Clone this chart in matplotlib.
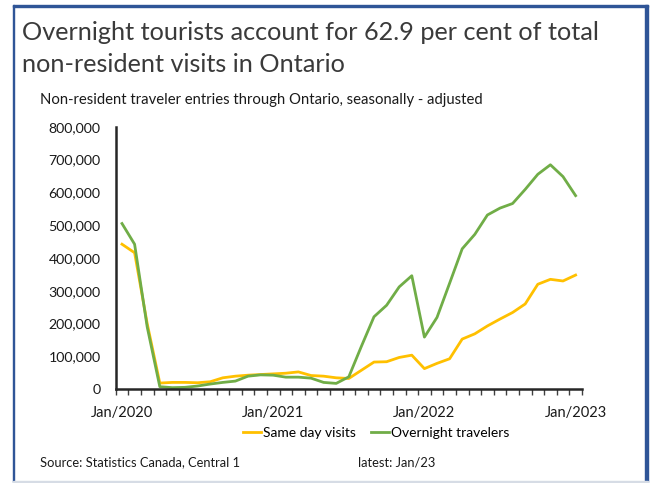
import matplotlib
matplotlib.use("Agg")
import matplotlib.pyplot as plt
from matplotlib.patches import Rectangle
from matplotlib.ticker import FuncFormatter, FixedLocator

months = ["Jan/2020","Feb/2020","Mar/2020","Apr/2020","May/2020","Jun/2020","Jul/2020","Aug/2020",
          "Sep/2020","Oct/2020","Nov/2020","Dec/2020","Jan/2021","Feb/2021","Mar/2021","Apr/2021",
          "May/2021","Jun/2021","Jul/2021","Aug/2021","Sep/2021","Oct/2021","Nov/2021","Dec/2021",
          "Jan/2022","Feb/2022","Mar/2022","Apr/2022","May/2022","Jun/2022","Jul/2022","Aug/2022",
          "Sep/2022","Oct/2022","Nov/2022","Dec/2022","Jan/2023"]
same_day = [442000, 416000, 200000, 19000, 21000, 21000, 20000, 23000, 35000, 40000, 43000, 45000,
            47000, 49000, 53000, 42000, 40000, 35000, 33000, 58000, 83000, 84000, 97000, 104000,
            63000, 79000, 93000, 153000, 169000, 193000, 214000, 234000, 260000, 320000, 335000,
            330000, 348000]
overnight = [505000, 442000, 190000, 8000, 5000, 6000, 10000, 16000, 21000, 25000, 40000, 44000,
             43000, 37000, 37000, 34000, 21000, 18000, 38000, 131000, 221000, 256000, 312000, 346000,
             159000, 219000, 323000, 428000, 472000, 531000, 552000, 566000, 609000, 655000, 684000,
             648000, 590000]
label_idx = [0, 12, 24, 36]
y_ticks = [0, 100000, 200000, 300000, 400000, 500000, 600000, 700000, 800000]

plt.rcParams['font.family'] = ['Lato', 'DejaVu Sans']

W, H = 652, 483
fig = plt.figure(figsize=(W/100, H/100), dpi=100)
fig.patch.set_facecolor('white')

# frame
blue = '#2F5597'
fig.patches.append(Rectangle((12.5/W, 1-482/H), 1.5/W, (482-5)/H, transform=fig.transFigure,
                             color=blue, zorder=0))
fig.patches.append(Rectangle((12.5/W, 1-7/H), (648-12.5)/W, 2/H, transform=fig.transFigure,
                             color=blue, zorder=0))
fig.patches.append(Rectangle((645/W, 1-482/H), 3/W, (482-5)/H, transform=fig.transFigure,
                             color=blue, zorder=0))
fig.patches.append(Rectangle((12.5/W, 0), (648-12.5)/W, 2/H, transform=fig.transFigure,
                             color='#D6DCE5', zorder=0))

ax = fig.add_axes([115.7/W, 1-389.3/H, (581.9-115.7)/W, (389.3-126.7)/H])
x = list(range(len(months)))
ax.plot(x, same_day, color='#FFC000', lw=2.0, label='Same day visits')
ax.plot(x, overnight, color='#70AD47', lw=2.0, label='Overnight travelers')

ax.set_xlim(-0.5, len(months)-0.5)
ax.set_ylim(0, 800000)
ax.set_yticks(y_ticks)
ax.yaxis.set_major_formatter(FuncFormatter(lambda v, p: f"{int(v):,}"))
ax.tick_params(axis='y', length=0, pad=11, labelsize=10.2, labelcolor='#1a1a1a')
ax.set_xticks(label_idx)
ax.set_xticklabels([months[i] for i in label_idx])
ax.tick_params(axis='x', which='major', length=0, pad=12, labelsize=10.5, labelcolor='#1a1a1a')
ax.xaxis.set_minor_locator(FixedLocator([i - 0.5 for i in range(len(months)+1)]))
ax.tick_params(axis='x', which='minor', length=4, width=1, color='#404040', direction='out')
for s in ['top', 'right']:
    ax.spines[s].set_visible(False)
for s in ['left', 'bottom']:
    ax.spines[s].set_color('#262626')
    ax.spines[s].set_linewidth(1.8)

leg = fig.legend(loc='center', bbox_to_anchor=(376/W, 1-433/H), ncol=2, frameon=False,
                 fontsize=10, handlelength=1.3, handletextpad=0.15, columnspacing=1.1)

fig.text(22/W, 1-39.5/H, "Overnight tourists account for 62.9 per cent of total", fontsize=18.2,
         color='#3a3a3a', va='baseline')
fig.text(22/W, 1-72/H, "non-resident visits in Ontario", fontsize=18.2,
         color='#3a3a3a', va='baseline')
fig.text(40/W, 1-104/H, "Non-resident traveler entries through Ontario, seasonally - adjusted",
         fontsize=10.7, color='#1a1a1a', va='baseline')
fig.text(40/W, 1-466.5/H, "Source: Statistics Canada, Central 1", fontsize=9.3, color='#1a1a1a',
         va='baseline')
fig.text(358/W, 1-466.5/H, "latest: Jan/23", fontsize=9.3, color='#1a1a1a', va='baseline')

fig.savefig('out.png', dpi=100)
